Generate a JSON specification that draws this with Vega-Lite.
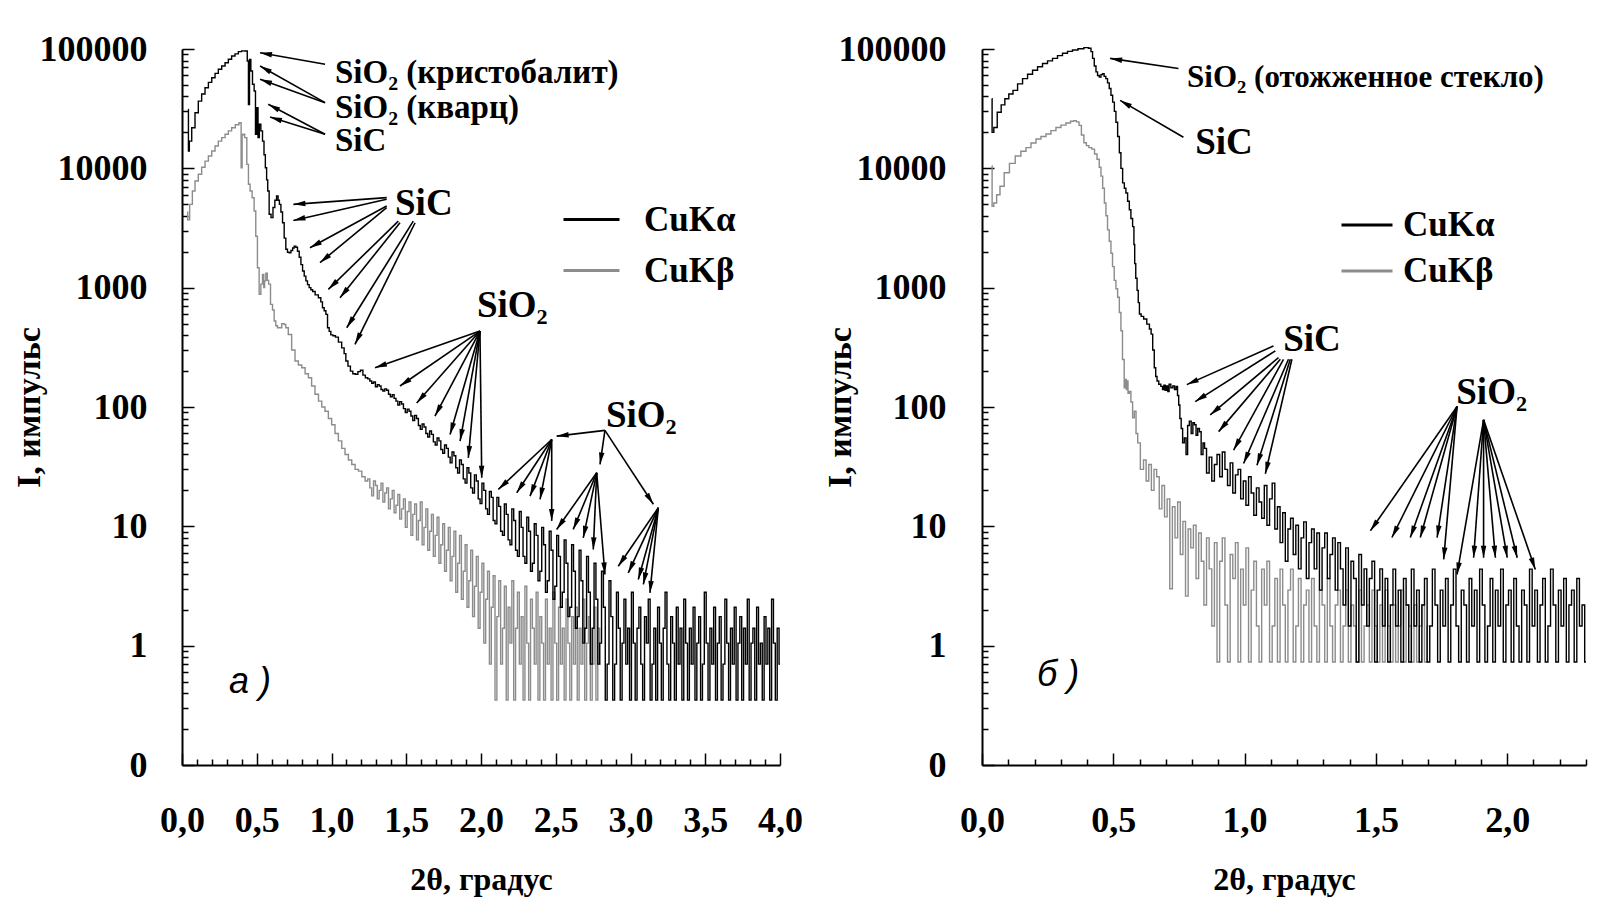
{
"$schema": "https://vega.github.io/schema/vega-lite/v6.json",
"background": "white",
"padding": {"left": 12, "top": 31, "right": 10, "bottom": 5},
"spacing": 202,
"bounds": "flush",
"config": {
  "view": {"stroke": null},
  "font": "Liberation Serif",
  "axis": {"labelFont": "Liberation Serif", "labelFontWeight": "bold", "labelFontSize": 36, "labelColor": "#000", "titleFont": "Liberation Serif", "titleFontWeight": "bold", "titleFontSize": 32, "titleColor": "#000", "domainColor": "#000", "domainWidth": 2, "tickColor": "#000", "tickWidth": 1.5, "grid": false, "labelOverlap": false, "labelFlush": false}
},
"datasets": {
"aA": [
{"x":0.042,"y":31200},{"x":0.044,"y":13960},{"x":0.054,"y":16900},{"x":0.076,"y":21900},{"x":0.098,"y":29200},{"x":0.120,"y":36600},{"x":0.143,"y":42000},{"x":0.165,"y":47400},{"x":0.188,"y":52500},{"x":0.210,"y":57500},{"x":0.232,"y":62500},{"x":0.254,"y":67600},{"x":0.277,"y":72000},{"x":0.299,"y":76800},{"x":0.321,"y":82000},{"x":0.343,"y":87300},{"x":0.366,"y":91000},{"x":0.388,"y":95000},{"x":0.410,"y":96500},{"x":0.432,"y":96100},{"x":0.441,"y":79300},{"x":0.448,"y":34300},{"x":0.455,"y":81900},{"x":0.466,"y":65500},{"x":0.477,"y":50600},{"x":0.488,"y":44500},{"x":0.495,"y":19300},{"x":0.504,"y":32200},{"x":0.513,"y":18100},{"x":0.522,"y":23400},{"x":0.533,"y":20600},{"x":0.544,"y":16900},{"x":0.553,"y":13000},{"x":0.562,"y":10100},{"x":0.570,"y":8000},{"x":0.577,"y":6460},{"x":0.589,"y":4120},{"x":0.602,"y":3860},{"x":0.615,"y":4690},{"x":0.627,"y":5400},{"x":0.638,"y":5870},{"x":0.647,"y":5400},{"x":0.656,"y":4990},{"x":0.667,"y":4300},{"x":0.678,"y":3500},{"x":0.689,"y":2600},{"x":0.700,"y":2100},{"x":0.711,"y":1980},{"x":0.722,"y":1960},{"x":0.735,"y":2050},{"x":0.745,"y":2150},{"x":0.756,"y":2230},{"x":0.767,"y":2180},{"x":0.778,"y":2020},{"x":0.790,"y":1800},{"x":0.801,"y":1560},{"x":0.812,"y":1380},{"x":0.823,"y":1250},{"x":0.834,"y":1140},{"x":0.845,"y":1060},{"x":0.856,"y":1000},{"x":0.868,"y":960},{"x":0.880,"y":930},{"x":0.901,"y":870},{"x":0.923,"y":824},{"x":0.934,"y":760},{"x":0.945,"y":679},{"x":0.957,"y":640},{"x":0.968,"y":597},{"x":0.979,"y":461},{"x":0.990,"y":430},{"x":1.001,"y":402},{"x":1.018,"y":395},{"x":1.035,"y":385},{"x":1.057,"y":350},{"x":1.079,"y":313},{"x":1.090,"y":280},{"x":1.102,"y":243},{"x":1.118,"y":220},{"x":1.135,"y":200},{"x":1.150,"y":190},{"x":1.168,"y":188},{"x":1.185,"y":198},{"x":1.202,"y":203},{"x":1.218,"y":185},{"x":1.235,"y":176},
{"x":1.2500,"y":172},{"x":1.2625,"y":165},{"x":1.2750,"y":158},{"x":1.2875,"y":162},{"x":1.3000,"y":148},{"x":1.3125,"y":154},{"x":1.3250,"y":150},{"x":1.3375,"y":140},{"x":1.3500,"y":136},{"x":1.3625,"y":142},{"x":1.3750,"y":138},{"x":1.3875,"y":128},{"x":1.4000,"y":122},{"x":1.4125,"y":127},{"x":1.4250,"y":118},{"x":1.4375,"y":112},{"x":1.4500,"y":104},{"x":1.4625,"y":111},{"x":1.4750,"y":106},{"x":1.4875,"y":97},{"x":1.5000,"y":90},{"x":1.5125,"y":96},{"x":1.5250,"y":92},{"x":1.5375,"y":84},{"x":1.5500,"y":77},{"x":1.5625,"y":85},{"x":1.5750,"y":80},{"x":1.5875,"y":70},{"x":1.6000,"y":65},{"x":1.6125,"y":72},{"x":1.6250,"y":68},{"x":1.6375,"y":60},{"x":1.6500,"y":56},{"x":1.6625,"y":63},{"x":1.6750,"y":59},{"x":1.6875,"y":51},{"x":1.7000,"y":48},{"x":1.7125,"y":55},{"x":1.7250,"y":52},{"x":1.7375,"y":44},{"x":1.7500,"y":41},{"x":1.7625,"y":48},{"x":1.7750,"y":45},{"x":1.7875,"y":38},{"x":1.8000,"y":34},{"x":1.8125,"y":42},{"x":1.8250,"y":39},{"x":1.8375,"y":31},{"x":1.8500,"y":28},{"x":1.8625,"y":36},{"x":1.8750,"y":33},{"x":1.8875,"y":25},{"x":1.9000,"y":23},{"x":1.9125,"y":31},{"x":1.9250,"y":28},{"x":1.9375,"y":21},{"x":1.9500,"y":19},{"x":1.9625,"y":27},{"x":1.9750,"y":24},{"x":1.9875,"y":17},{"x":2.0000,"y":15.5},{"x":2.0125,"y":23},{"x":2.0250,"y":20},{"x":2.0375,"y":14},{"x":2.0500,"y":12.6},{"x":2.0625,"y":19.6},{"x":2.0750,"y":17.5},{"x":2.0875,"y":11.2},{"x":2.1000,"y":10.5},{"x":2.1125,"y":17.5},{"x":2.1250,"y":14.7},{"x":2.1375,"y":9.1},{"x":2.1500,"y":8.4},{"x":2.1625,"y":15.4},{"x":2.1750,"y":12.6},{"x":2.1875,"y":7.7},{"x":2.2000,"y":7.0},{"x":2.2125,"y":14},{"x":2.2250,"y":11.2},{"x":2.2375,"y":6.3},{"x":2.2500,"y":5.6},{"x":2.2625,"y":13.3},{"x":2.2750,"y":9.8},{"x":2.2875,"y":5.6},{"x":2.3000,"y":4.9},{"x":2.3125,"y":11.9},{"x":2.3250,"y":9.1},{"x":2.3375,"y":4.2},{"x":2.3500,"y":4.9},{"x":2.3625,"y":10.5},{"x":2.3750,"y":8.4},{"x":2.3875,"y":3.5},{"x":2.4000,"y":4.2},{"x":2.4125,"y":9.8},{"x":2.4250,"y":7.0},{"x":2.4375,"y":2.8},{"x":2.4500,"y":3.5},{"x":2.4625,"y":9.1},{"x":2.4750,"y":6.3},{"x":2.4875,"y":2.45},{"x":2.5000,"y":3.15},{"x":2.5125,"y":8.4},{"x":2.5250,"y":5.6},{"x":2.5375,"y":2.1},{"x":2.5500,"y":2.8},{"x":2.5625,"y":7.7},{"x":2.5750,"y":4.9},{"x":2.5875,"y":1.75},{"x":2.6000,"y":2.1},{"x":2.6125,"y":7.0},{"x":2.6250,"y":4.2},{"x":2.6375,"y":1.4},{"x":2.6500,"y":1.75},{"x":2.6625,"y":6.3},{"x":2.6750,"y":3.5},{"x":2.6875,"y":1.05},{"x":2.7000,"y":1.4},{"x":2.7125,"y":5.6},{"x":2.7250,"y":2.8},{"x":2.7375,"y":0.7},{"x":2.7500,"y":1.4},{"x":2.7625,"y":4.9},{"x":2.7750,"y":2.45},{"x":2.7875,"y":0.7},{"x":2.8000,"y":1.05},{"x":2.8125,"y":4.2},{"x":2.8250,"y":2.1},{"x":2.8375,"y":0.35},{"x":2.8500,"y":0.7},{"x":2.8625,"y":3.5},{"x":2.8750,"y":1.75},{"x":2.8875,"y":0.35},{"x":2.9000,"y":0.7},{"x":2.9125,"y":2.8},{"x":2.9250,"y":1.4},{"x":2.9375,"y":0.35},{"x":2.9500,"y":1.05},{"x":2.9625,"y":2.45},{"x":2.9750,"y":0.7},{"x":2.9875,"y":1.4},{"x":3.0000,"y":0.35},{"x":3.0125,"y":2.8},{"x":3.0250,"y":1.05},{"x":3.0375,"y":0.35},{"x":3.0500,"y":1.4},{"x":3.0625,"y":2.1},{"x":3.0750,"y":0.7},{"x":3.0875,"y":0.35},{"x":3.1000,"y":1.75},{"x":3.1125,"y":1.05},{"x":3.1250,"y":2.45},{"x":3.1375,"y":0.35},{"x":3.1500,"y":0.7},{"x":3.1625,"y":1.4},{"x":3.1750,"y":0.35},{"x":3.1875,"y":2.1},{"x":3.2000,"y":1.05},{"x":3.2125,"y":0.35},{"x":3.2250,"y":1.4},{"x":3.2375,"y":2.8},{"x":3.2500,"y":0.7},{"x":3.2625,"y":0.35},{"x":3.2750,"y":1.75},{"x":3.2875,"y":1.05},{"x":3.3000,"y":0.35},{"x":3.3125,"y":2.1},{"x":3.3250,"y":0.7},{"x":3.3375,"y":1.4},{"x":3.3500,"y":0.35},{"x":3.3625,"y":2.45},{"x":3.3750,"y":1.05},{"x":3.3875,"y":0.35},{"x":3.4000,"y":1.4},{"x":3.4125,"y":0.7},{"x":3.4250,"y":2.1},{"x":3.4375,"y":0.35},{"x":3.4500,"y":1.05},{"x":3.4625,"y":1.75},{"x":3.4750,"y":0.35},{"x":3.4875,"y":0.7},{"x":3.5000,"y":2.8},{"x":3.5125,"y":1.05},{"x":3.5250,"y":0.35},{"x":3.5375,"y":1.4},{"x":3.5500,"y":0.7},{"x":3.5625,"y":2.1},{"x":3.5750,"y":0.35},{"x":3.5875,"y":1.05},{"x":3.6000,"y":1.75},{"x":3.6125,"y":0.35},{"x":3.6250,"y":0.7},{"x":3.6375,"y":2.45},{"x":3.6500,"y":1.05},{"x":3.6625,"y":0.35},{"x":3.6750,"y":1.4},{"x":3.6875,"y":0.7},{"x":3.7000,"y":2.1},{"x":3.7125,"y":0.35},{"x":3.7250,"y":1.05},{"x":3.7375,"y":1.75},{"x":3.7500,"y":0.35},{"x":3.7625,"y":1.4},{"x":3.7750,"y":0.7},{"x":3.7875,"y":2.45},{"x":3.8000,"y":0.35},{"x":3.8125,"y":1.05},{"x":3.8250,"y":1.4},{"x":3.8375,"y":0.35},{"x":3.8500,"y":2.1},{"x":3.8625,"y":0.7},{"x":3.8750,"y":1.05},{"x":3.8875,"y":0.35},{"x":3.9000,"y":1.75},{"x":3.9125,"y":0.7},{"x":3.9250,"y":1.4},{"x":3.9375,"y":0.35},{"x":3.9500,"y":2.45},{"x":3.9625,"y":1.05},{"x":3.9750,"y":0.35},{"x":3.9875,"y":1.4},{"x":4.0000,"y":0.7}
],
"aB": [
{"x":0.036,"y":4300},{"x":0.040,"y":3700},{"x":0.0625,"y":4990},{"x":0.076,"y":6450},{"x":0.098,"y":7830},{"x":0.120,"y":8910},{"x":0.143,"y":10200},{"x":0.165,"y":11500},{"x":0.188,"y":12700},{"x":0.210,"y":13960},{"x":0.232,"y":15400},{"x":0.254,"y":16900},{"x":0.277,"y":18100},{"x":0.299,"y":19300},{"x":0.321,"y":20600},{"x":0.343,"y":21900},{"x":0.370,"y":23200},{"x":0.392,"y":24100},{"x":0.399,"y":10100},{"x":0.405,"y":19000},{"x":0.410,"y":19300},{"x":0.428,"y":18100},{"x":0.439,"y":10800},{"x":0.450,"y":7350},{"x":0.461,"y":6450},{"x":0.477,"y":5670},{"x":0.488,"y":4390},{"x":0.499,"y":2700},{"x":0.510,"y":1470},{"x":0.522,"y":880},{"x":0.533,"y":1070},{"x":0.544,"y":1290},{"x":0.550,"y":1000},{"x":0.555,"y":1140},{"x":0.566,"y":1320},{"x":0.575,"y":1150},{"x":0.584,"y":1070},{"x":0.600,"y":724},{"x":0.611,"y":650},{"x":0.622,"y":525},{"x":0.633,"y":480},{"x":0.644,"y":461},{"x":0.656,"y":461},{"x":0.678,"y":500},{"x":0.689,"y":492},{"x":0.700,"y":461},{"x":0.722,"y":405},{"x":0.745,"y":300},{"x":0.767,"y":243},{"x":0.790,"y":225},{"x":0.812,"y":213},{"x":0.835,"y":190},{"x":0.856,"y":176},{"x":0.878,"y":150},{"x":0.901,"y":128},{"x":0.925,"y":112},{"x":0.945,"y":100},{"x":0.968,"y":92},{"x":0.990,"y":80},{"x":1.012,"y":71},{"x":1.035,"y":60},{"x":1.057,"y":52},{"x":1.080,"y":45},{"x":1.101,"y":40},{"x":1.125,"y":36},{"x":1.146,"y":33},{"x":1.170,"y":30},{"x":1.191,"y":29},{"x":1.215,"y":26},{"x":1.235,"y":24},
{"x":1.2500,"y":25},{"x":1.2625,"y":21},{"x":1.2750,"y":18},{"x":1.2875,"y":24},{"x":1.3000,"y":22},{"x":1.3125,"y":17},{"x":1.3250,"y":20},{"x":1.3375,"y":23},{"x":1.3500,"y":16},{"x":1.3625,"y":19},{"x":1.3750,"y":21},{"x":1.3875,"y":14},{"x":1.4000,"y":17},{"x":1.4125,"y":20},{"x":1.4250,"y":13},{"x":1.4375,"y":15},{"x":1.4500,"y":18.5},{"x":1.4625,"y":11.5},{"x":1.4750,"y":14},{"x":1.4875,"y":17},{"x":1.5000,"y":9.8},{"x":1.5125,"y":13.3},{"x":1.5250,"y":16},{"x":1.5375,"y":8.4},{"x":1.5500,"y":12.6},{"x":1.5625,"y":15.4},{"x":1.5750,"y":7.7},{"x":1.5875,"y":11.2},{"x":1.6000,"y":16},{"x":1.6125,"y":7.0},{"x":1.6250,"y":9.8},{"x":1.6375,"y":14},{"x":1.6500,"y":6.3},{"x":1.6625,"y":9.1},{"x":1.6750,"y":12.6},{"x":1.6875,"y":5.6},{"x":1.7000,"y":8.4},{"x":1.7125,"y":11.9},{"x":1.7250,"y":4.9},{"x":1.7375,"y":7.0},{"x":1.7500,"y":10.5},{"x":1.7625,"y":4.2},{"x":1.7750,"y":6.3},{"x":1.7875,"y":9.8},{"x":1.8000,"y":3.5},{"x":1.8125,"y":5.6},{"x":1.8250,"y":9.1},{"x":1.8375,"y":2.8},{"x":1.8500,"y":4.9},{"x":1.8625,"y":8.4},{"x":1.8750,"y":2.45},{"x":1.8875,"y":4.2},{"x":1.9000,"y":7.0},{"x":1.9125,"y":2.1},{"x":1.9250,"y":3.5},{"x":1.9375,"y":6.3},{"x":1.9500,"y":1.75},{"x":1.9625,"y":3.15},{"x":1.9750,"y":5.6},{"x":1.9875,"y":1.4},{"x":2.0000,"y":2.8},{"x":2.0125,"y":4.9},{"x":2.0250,"y":1.05},{"x":2.0375,"y":2.45},{"x":2.0500,"y":4.2},{"x":2.0625,"y":0.7},{"x":2.0750,"y":2.1},{"x":2.0875,"y":3.85},{"x":2.1000,"y":0.35},{"x":2.1125,"y":1.75},{"x":2.1250,"y":3.5},{"x":2.1375,"y":0.7},{"x":2.1500,"y":1.4},{"x":2.1625,"y":3.15},{"x":2.1750,"y":0.35},{"x":2.1875,"y":2.1},{"x":2.2000,"y":1.05},{"x":2.2125,"y":3.5},{"x":2.2250,"y":0.35},{"x":2.2375,"y":1.4},{"x":2.2500,"y":2.8},{"x":2.2625,"y":0.7},{"x":2.2750,"y":1.75},{"x":2.2875,"y":0.35},{"x":2.3000,"y":3.15},{"x":2.3125,"y":1.05},{"x":2.3250,"y":0.35},{"x":2.3375,"y":2.45},{"x":2.3500,"y":1.4},{"x":2.3625,"y":0.7},{"x":2.3750,"y":2.8},{"x":2.3875,"y":0.35},{"x":2.4000,"y":1.75},{"x":2.4125,"y":1.05},{"x":2.4250,"y":0.35},{"x":2.4375,"y":2.45},{"x":2.4500,"y":0.7},{"x":2.4625,"y":1.4},{"x":2.4750,"y":0.35},{"x":2.4875,"y":2.8},{"x":2.5000,"y":1.05},{"x":2.5125,"y":0.35},{"x":2.5250,"y":2.1},{"x":2.5375,"y":0.7},{"x":2.5500,"y":1.4},{"x":2.5625,"y":0.35},{"x":2.5750,"y":2.45},{"x":2.5875,"y":1.05},{"x":2.6000,"y":0.35},{"x":2.6125,"y":1.75},{"x":2.6250,"y":0.7},{"x":2.6375,"y":2.1},{"x":2.6500,"y":0.35},{"x":2.6625,"y":1.4},{"x":2.6750,"y":0.7},{"x":2.6875,"y":2.45},{"x":2.7000,"y":0.35},{"x":2.7125,"y":1.05},{"x":2.7250,"y":1.75},{"x":2.7375,"y":0.35},{"x":2.7500,"y":0.7},{"x":2.7625,"y":2.1},{"x":2.7750,"y":0.35},{"x":2.7875,"y":1.4},{"x":2.8000,"y":0.7}
],
"bA": [
{"x":0.037,"y":38300},{"x":0.040,"y":20000},{"x":0.050,"y":22000},{"x":0.066,"y":29500},{"x":0.080,"y":34000},{"x":0.094,"y":38300},{"x":0.110,"y":42000},{"x":0.126,"y":45000},{"x":0.145,"y":51000},{"x":0.164,"y":56500},{"x":0.183,"y":61500},{"x":0.202,"y":66400},{"x":0.221,"y":71000},{"x":0.240,"y":75600},{"x":0.259,"y":79500},{"x":0.278,"y":83400},{"x":0.297,"y":88000},{"x":0.316,"y":92000},{"x":0.335,"y":95500},{"x":0.354,"y":98100},{"x":0.377,"y":100500},{"x":0.399,"y":102600},{"x":0.412,"y":101600},{"x":0.418,"y":95000},{"x":0.424,"y":83400},{"x":0.431,"y":72000},{"x":0.437,"y":64300},{"x":0.443,"y":60000},{"x":0.450,"y":58300},{"x":0.456,"y":61000},{"x":0.462,"y":62200},{"x":0.468,"y":59000},{"x":0.475,"y":56500},{"x":0.481,"y":52000},{"x":0.488,"y":46600},{"x":0.494,"y":41000},{"x":0.501,"y":35900},{"x":0.507,"y":30000},{"x":0.513,"y":24300},{"x":0.520,"y":18500},{"x":0.526,"y":13500},{"x":0.532,"y":10000},{"x":0.539,"y":7550},{"x":0.545,"y":6800},{"x":0.551,"y":6220},{"x":0.558,"y":5300},{"x":0.564,"y":4500},{"x":0.570,"y":3800},{"x":0.577,"y":3250},{"x":0.580,"y":2300},{"x":0.583,"y":1590},{"x":0.588,"y":1200},{"x":0.593,"y":949},{"x":0.597,"y":750},{"x":0.602,"y":602},{"x":0.610,"y":575},{"x":0.621,"y":546},{"x":0.634,"y":495},{"x":0.641,"y":450},{"x":0.647,"y":408},{"x":0.653,"y":300},{"x":0.659,"y":213},{"x":0.664,"y":180},{"x":0.669,"y":165},{"x":0.677,"y":155},{"x":0.685,"y":149},{"x":0.690,"y":140},{"x":0.695,"y":152},{"x":0.700,"y":138},{"x":0.705,"y":150},{"x":0.710,"y":135},{"x":0.715,"y":155},{"x":0.723,"y":145},{"x":0.730,"y":150},{"x":0.736,"y":140},{"x":0.742,"y":149},{"x":0.747,"y":125},{"x":0.751,"y":104},{"x":0.756,"y":80},{"x":0.761,"y":66},{"x":0.767,"y":50},{"x":0.774,"y":55},{"x":0.780,"y":40},{"x":0.786,"y":70},{"x":0.793,"y":76},{"x":0.800,"y":60},{"x":0.806,"y":74},{"x":0.812,"y":71},{"x":0.818,"y":58},{"x":0.825,"y":66},{"x":0.831,"y":62},{"x":0.838,"y":40},{"x":0.845,"y":50},
{"x":0.850,"y":45},{"x":0.860,"y":28},{"x":0.870,"y":38},{"x":0.880,"y":24},{"x":0.890,"y":33},{"x":0.900,"y":40},{"x":0.910,"y":26},{"x":0.920,"y":42},{"x":0.930,"y":30},{"x":0.940,"y":22},{"x":0.950,"y":34},{"x":0.960,"y":19},{"x":0.970,"y":27},{"x":0.980,"y":30},{"x":0.990,"y":17},{"x":1.000,"y":24},{"x":1.010,"y":15},{"x":1.020,"y":26},{"x":1.030,"y":19},{"x":1.040,"y":12.4},{"x":1.050,"y":21},{"x":1.060,"y":16},{"x":1.070,"y":11.7},{"x":1.080,"y":22},{"x":1.090,"y":10.2},{"x":1.100,"y":17},{"x":1.110,"y":23},{"x":1.120,"y":9.5},{"x":1.130,"y":14.6},{"x":1.140,"y":7.3},{"x":1.150,"y":13},{"x":1.160,"y":5.1},{"x":1.170,"y":9.5},{"x":1.180,"y":11.7},{"x":1.190,"y":5.8},{"x":1.200,"y":10.2},{"x":1.210,"y":4.4},{"x":1.220,"y":8.0},{"x":1.230,"y":10.9},{"x":1.240,"y":3.65},{"x":1.250,"y":7.3},{"x":1.260,"y":9.5},{"x":1.270,"y":4.4},{"x":1.280,"y":8.8},{"x":1.290,"y":2.92},{"x":1.300,"y":6.6},{"x":1.310,"y":8.8},{"x":1.320,"y":3.65},{"x":1.330,"y":5.8},{"x":1.340,"y":8.0},{"x":1.350,"y":2.92},{"x":1.360,"y":7.3},{"x":1.370,"y":4.4},{"x":1.380,"y":2.19},{"x":1.390,"y":6.6},{"x":1.400,"y":1.46},{"x":1.410,"y":5.1},{"x":1.420,"y":3.65},{"x":1.430,"y":0.73},{"x":1.440,"y":5.8},{"x":1.450,"y":2.19},{"x":1.460,"y":4.4},{"x":1.470,"y":1.46},{"x":1.480,"y":3.65},{"x":1.490,"y":5.1},{"x":1.500,"y":0.73},{"x":1.510,"y":2.92},{"x":1.520,"y":4.4},{"x":1.530,"y":1.46},{"x":1.540,"y":3.65},{"x":1.550,"y":0.73},{"x":1.560,"y":2.19},{"x":1.570,"y":4.38},{"x":1.580,"y":1.46},{"x":1.590,"y":2.92},{"x":1.600,"y":0.73},{"x":1.610,"y":3.65},{"x":1.620,"y":2.19},{"x":1.630,"y":0.73},{"x":1.640,"y":4.38},{"x":1.650,"y":1.46},{"x":1.660,"y":2.92},{"x":1.670,"y":0.73},{"x":1.680,"y":2.19},{"x":1.690,"y":3.65},{"x":1.700,"y":0.73},{"x":1.710,"y":1.46},{"x":1.720,"y":4.38},{"x":1.730,"y":2.19},{"x":1.740,"y":0.73},{"x":1.750,"y":2.92},{"x":1.760,"y":1.46},{"x":1.770,"y":3.65},{"x":1.780,"y":0.73},{"x":1.790,"y":2.19},{"x":1.800,"y":4.38},{"x":1.810,"y":1.46},{"x":1.820,"y":0.73},{"x":1.830,"y":2.92},{"x":1.840,"y":2.19},{"x":1.850,"y":0.73},{"x":1.860,"y":3.65},{"x":1.870,"y":1.46},{"x":1.880,"y":2.92},{"x":1.890,"y":0.73},{"x":1.900,"y":4.38},{"x":1.910,"y":2.19},{"x":1.920,"y":0.73},{"x":1.930,"y":1.46},{"x":1.940,"y":3.65},{"x":1.950,"y":0.73},{"x":1.960,"y":2.92},{"x":1.970,"y":1.46},{"x":1.980,"y":4.38},{"x":1.990,"y":0.73},{"x":2.000,"y":2.19},{"x":2.010,"y":2.92},{"x":2.020,"y":0.73},{"x":2.030,"y":3.65},{"x":2.040,"y":1.46},{"x":2.050,"y":0.73},{"x":2.060,"y":2.92},{"x":2.070,"y":2.19},{"x":2.080,"y":0.73},{"x":2.090,"y":4.38},{"x":2.100,"y":1.46},{"x":2.110,"y":2.92},{"x":2.120,"y":0.73},{"x":2.130,"y":2.19},{"x":2.140,"y":3.65},{"x":2.150,"y":0.73},{"x":2.160,"y":1.46},{"x":2.170,"y":4.38},{"x":2.180,"y":2.19},{"x":2.190,"y":0.73},{"x":2.200,"y":2.92},{"x":2.210,"y":1.46},{"x":2.220,"y":3.65},{"x":2.230,"y":0.73},{"x":2.240,"y":2.19},{"x":2.250,"y":2.92},{"x":2.260,"y":0.73},{"x":2.270,"y":3.65},{"x":2.280,"y":1.46},{"x":2.290,"y":2.19},{"x":2.300,"y":0.73}
],
"bB": [
{"x":0.037,"y":10450},{"x":0.040,"y":4800},{"x":0.0496,"y":5120},{"x":0.062,"y":6000},{"x":0.075,"y":7080},{"x":0.094,"y":9180},{"x":0.115,"y":11000},{"x":0.138,"y":12700},{"x":0.158,"y":13900},{"x":0.177,"y":14900},{"x":0.196,"y":16300},{"x":0.215,"y":17600},{"x":0.234,"y":18500},{"x":0.253,"y":19400},{"x":0.272,"y":20700},{"x":0.291,"y":22000},{"x":0.310,"y":23000},{"x":0.329,"y":24000},{"x":0.345,"y":24800},{"x":0.354,"y":25100},{"x":0.365,"y":24500},{"x":0.374,"y":22900},{"x":0.383,"y":19000},{"x":0.393,"y":16400},{"x":0.402,"y":15500},{"x":0.412,"y":14900},{"x":0.424,"y":14500},{"x":0.433,"y":13200},{"x":0.443,"y":11900},{"x":0.450,"y":10200},{"x":0.456,"y":8610},{"x":0.463,"y":6800},{"x":0.469,"y":5120},{"x":0.475,"y":4000},{"x":0.481,"y":3050},{"x":0.488,"y":2450},{"x":0.494,"y":1940},{"x":0.500,"y":1500},{"x":0.507,"y":1150},{"x":0.513,"y":980},{"x":0.520,"y":832},{"x":0.526,"y":620},{"x":0.532,"y":436},{"x":0.538,"y":250},{"x":0.545,"y":145},{"x":0.548,"y":170},{"x":0.551,"y":140},{"x":0.554,"y":165},{"x":0.558,"y":130},{"x":0.564,"y":135},{"x":0.570,"y":110},{"x":0.577,"y":81},{"x":0.583,"y":92},{"x":0.590,"y":60},{"x":0.596,"y":50},
{"x":0.610,"y":30},{"x":0.620,"y":36},{"x":0.630,"y":24},{"x":0.640,"y":33},{"x":0.650,"y":20},{"x":0.660,"y":30},{"x":0.670,"y":26},{"x":0.680,"y":14},{"x":0.690,"y":22},{"x":0.700,"y":12},{"x":0.710,"y":17},{"x":0.720,"y":3.0},{"x":0.730,"y":14.6},{"x":0.740,"y":8.0},{"x":0.750,"y":16},{"x":0.760,"y":5.8},{"x":0.770,"y":11},{"x":0.780,"y":2.6},{"x":0.790,"y":9.5},{"x":0.800,"y":6.6},{"x":0.810,"y":10.2},{"x":0.820,"y":3.65},{"x":0.830,"y":8.8},{"x":0.840,"y":5.1},{"x":0.850,"y":2.19},{"x":0.860,"y":8.0},{"x":0.870,"y":4.4},{"x":0.880,"y":1.46},{"x":0.890,"y":7.3},{"x":0.900,"y":0.73},{"x":0.910,"y":5.1},{"x":0.920,"y":8.0},{"x":0.930,"y":2.19},{"x":0.940,"y":0.73},{"x":0.950,"y":5.8},{"x":0.960,"y":3.65},{"x":0.970,"y":7.3},{"x":0.980,"y":0.73},{"x":0.990,"y":4.38},{"x":1.000,"y":2.19},{"x":1.010,"y":6.6},{"x":1.020,"y":0.73},{"x":1.030,"y":2.92},{"x":1.040,"y":5.1},{"x":1.050,"y":1.46},{"x":1.060,"y":0.73},{"x":1.070,"y":4.38},{"x":1.080,"y":2.19},{"x":1.090,"y":5.1},{"x":1.100,"y":0.73},{"x":1.110,"y":1.46},{"x":1.120,"y":3.65},{"x":1.130,"y":0.73},{"x":1.140,"y":4.38},{"x":1.150,"y":2.19},{"x":1.160,"y":0.73},{"x":1.170,"y":2.92},{"x":1.180,"y":4.38},{"x":1.190,"y":0.73},{"x":1.200,"y":1.46},{"x":1.210,"y":3.65},{"x":1.220,"y":0.73},{"x":1.230,"y":2.19},{"x":1.240,"y":2.92},{"x":1.250,"y":0.73},{"x":1.260,"y":3.65},{"x":1.270,"y":1.46},{"x":1.280,"y":0.73},{"x":1.290,"y":2.92},{"x":1.300,"y":2.19},{"x":1.310,"y":0.73},{"x":1.320,"y":3.65},{"x":1.330,"y":1.46},{"x":1.340,"y":0.73},{"x":1.350,"y":2.19},{"x":1.360,"y":2.92},{"x":1.370,"y":0.73},{"x":1.380,"y":1.46},{"x":1.390,"y":2.92},{"x":1.400,"y":0.73},{"x":1.410,"y":2.19},{"x":1.420,"y":1.46},{"x":1.430,"y":0.73},{"x":1.440,"y":2.92},{"x":1.450,"y":0.73},{"x":1.460,"y":1.46},{"x":1.470,"y":2.19},{"x":1.480,"y":0.73},{"x":1.490,"y":2.92},{"x":1.500,"y":1.46},{"x":1.510,"y":0.73},{"x":1.520,"y":2.19},{"x":1.530,"y":0.73},{"x":1.540,"y":2.92},{"x":1.550,"y":1.46},{"x":1.560,"y":0.73},{"x":1.570,"y":2.19},{"x":1.580,"y":0.73},{"x":1.590,"y":1.46},{"x":1.600,"y":2.92},{"x":1.610,"y":0.73},{"x":1.620,"y":2.19},{"x":1.630,"y":1.46},{"x":1.640,"y":0.73},{"x":1.650,"y":2.19},{"x":1.660,"y":0.73},{"x":1.670,"y":1.46},{"x":1.680,"y":2.19},{"x":1.690,"y":0.73},{"x":1.700,"y":1.46}
],
"arrA": [
{"x":0.522,"y":93100,"x0":0.957,"y0":74500},{"x":0.522,"y":72000,"x0":0.957,"y0":35500},{"x":0.522,"y":55700,"x0":0.957,"y0":35500},{"x":0.577,"y":34400,"x0":0.957,"y0":19300},{"x":0.589,"y":26900,"x0":0.957,"y0":19300},
{"x":0.745,"y":4990,"x0":1.369,"y0":5680},{"x":0.745,"y":3660,"x0":1.369,"y0":5500},{"x":0.856,"y":2160,"x0":1.369,"y0":4830},{"x":0.923,"y":1620,"x0":1.369,"y0":4680},{"x":0.979,"y":968,"x0":1.447,"y0":3610},{"x":1.057,"y":822,"x0":1.458,"y0":3500},{"x":1.102,"y":461,"x0":1.547,"y0":3610},{"x":1.157,"y":335,"x0":1.559,"y0":3500},
{"x":1.291,"y":213,"x0":1.993,"y0":433},{"x":1.458,"y":150,"x0":1.993,"y0":433},{"x":1.570,"y":108,"x0":1.993,"y0":433},{"x":1.692,"y":84,"x0":1.993,"y0":433},{"x":1.793,"y":58.9,"x0":1.993,"y0":433},{"x":1.860,"y":51.8,"x0":1.993,"y0":433},{"x":1.915,"y":37.5,"x0":1.993,"y0":433},{"x":2.005,"y":25.5,"x0":1.993,"y0":433},
{"x":2.506,"y":57.0,"x0":2.829,"y0":63.7},{"x":2.796,"y":33.0,"x0":2.829,"y0":63.7},{"x":3.153,"y":15.3,"x0":2.829,"y0":63.7},
{"x":2.116,"y":20.4,"x0":2.473,"y0":53.4},{"x":2.239,"y":19.1,"x0":2.473,"y0":53.4},{"x":2.328,"y":17.9,"x0":2.473,"y0":53.4},{"x":2.395,"y":16.8,"x0":2.473,"y0":53.4},{"x":2.473,"y":11.1,"x0":2.473,"y0":53.4},
{"x":2.506,"y":9.42,"x0":2.774,"y0":28.1},{"x":2.617,"y":9.42,"x0":2.774,"y0":28.1},{"x":2.684,"y":8.01,"x0":2.774,"y0":28.1},{"x":2.751,"y":6.40,"x0":2.774,"y0":28.1},{"x":2.829,"y":3.95,"x0":2.774,"y0":28.1},
{"x":2.918,"y":4.63,"x0":3.186,"y0":14.3},{"x":2.985,"y":4.07,"x0":3.186,"y0":14.3},{"x":3.052,"y":3.59,"x0":3.186,"y0":14.3},{"x":3.086,"y":3.26,"x0":3.186,"y0":14.3},{"x":3.130,"y":2.77,"x0":3.186,"y0":14.3}
],
"arrB": [
{"x":0.488,"y":83400,"x0":0.748,"y0":68700},{"x":0.526,"y":37100,"x0":0.767,"y0":18200},
{"x":0.780,"y":154,"x0":1.110,"y0":325},{"x":0.812,"y":111,"x0":1.117,"y0":295},{"x":0.869,"y":85.9,"x0":1.129,"y0":259},{"x":0.901,"y":62.2,"x0":1.136,"y0":251},{"x":0.958,"y":43.5,"x0":1.148,"y0":251},{"x":0.996,"y":33.6,"x0":1.167,"y0":251},{"x":1.047,"y":32.5,"x0":1.174,"y0":251},{"x":1.079,"y":27.6,"x0":1.180,"y0":251},
{"x":1.479,"y":9.17,"x0":1.809,"y0":101},{"x":1.561,"y":8.06,"x0":1.809,"y0":101},{"x":1.631,"y":8.06,"x0":1.809,"y0":101},{"x":1.669,"y":8.06,"x0":1.809,"y0":101},{"x":1.733,"y":8.06,"x0":1.809,"y0":101},{"x":1.758,"y":5.28,"x0":1.809,"y0":101},
{"x":1.809,"y":3.95,"x0":1.910,"y0":78},{"x":1.872,"y":5.46,"x0":1.910,"y0":78},{"x":1.910,"y":5.46,"x0":1.910,"y0":78},{"x":1.955,"y":5.46,"x0":1.910,"y0":78},{"x":2.000,"y":5.46,"x0":1.910,"y0":78},{"x":2.038,"y":5.46,"x0":1.910,"y0":78},{"x":2.107,"y":4.35,"x0":1.910,"y0":78}
],
"txtTop": [
{"x":1.023,"y":63000,"t":"SiO₂ (кристобалит)"},{"x":1.023,"y":32000,"t":"SiO₂ (кварц)"},{"x":1.023,"y":16900,"t":"SiC"}
],
"txtA": [
{"x":1.425,"y":5020,"t":"SiC"},{"x":1.973,"y":702,"t":"SiO₂"},{"x":2.836,"y":84,"t":"SiO₂"}
],
"txtB": [
{"x":0.812,"y":16400,"t":"SiC"},{"x":1.147,"y":361,"t":"SiC"},{"x":1.806,"y":131,"t":"SiO₂"}
]
},
"resolve": {"scale": {"color": "independent"}, "legend": {"color": "independent"}},
"hconcat": [
{
 "width": 598, "height": 716,
 "encoding": {
  "x": {"field": "x", "type": "quantitative", "scale": {"domain": [0, 4], "nice": false, "zero": false},
   "axis": {"values": [0,0.1,0.2,0.3,0.4,0.5,0.6,0.7,0.8,0.9,1,1.1,1.2,1.3,1.4,1.5,1.6,1.7,1.8,1.9,2,2.1,2.2,2.3,2.4,2.5,2.6,2.7,2.8,2.9,3,3.1,3.2,3.3,3.4,3.5,3.6,3.7,3.8,3.9,4],
    "labelExpr": "abs(datum.value*2-round(datum.value*2))<0.001 ? replace(format(datum.value,'.1f'),'.',',') : ''",
    "tickSize": {"condition": {"test": "abs(datum.value*2-round(datum.value*2))<0.001", "value": -12}, "value": -6},
    "labelPadding": 50, "title": "2θ, градус", "titlePadding": 20}},
  "y": {"field": "y", "type": "quantitative", "scale": {"type": "log", "domain": [0.1, 100000], "nice": false},
   "axis": {"values": [0.1,0.2,0.3,0.4,0.5,0.6,0.7,0.8,0.9,1,2,3,4,5,6,7,8,9,10,20,30,40,50,60,70,80,90,100,200,300,400,500,600,700,800,900,1000,2000,3000,4000,5000,6000,7000,8000,9000,10000,20000,30000,40000,50000,60000,70000,80000,90000,100000],
    "labelExpr": "abs(log(datum.value)/LN10-round(log(datum.value)/LN10))<0.001 ? (datum.value<0.5 ? '0' : format(datum.value,'d')) : ''",
    "tickSize": {"condition": {"test": "abs(log(datum.value)/LN10-round(log(datum.value)/LN10))<0.001", "value": -12}, "value": -6},
    "labelPadding": 47, "title": "I, импульс", "titleFontSize": 34, "titleAngle": -90, "titleX": -153, "titleY": 358, "titleAlign": "center", "titleBaseline": "middle"}}
 },
 "layer": [
  {"data": {"name": "aB"}, "mark": {"type": "line", "interpolate": "step", "strokeWidth": 1.4},
   "encoding": {"color": {"datum": "CuKβ", "type": "nominal", "scale": {"domain": ["CuKα", "CuKβ"], "range": ["#000000", "#8c8c8c"]},
    "legend": {"orient": "none", "legendX": 380, "legendY": 141, "title": null, "symbolType": "stroke", "symbolSize": 3136, "symbolStrokeWidth": 3, "labelFont": "Liberation Serif", "labelFontWeight": "bold", "labelFontSize": 35, "labelColor": "#000", "labelOffset": 23, "rowPadding": 3, "padding": 0}}}},
  {"data": {"name": "aA"}, "mark": {"type": "line", "interpolate": "step", "strokeWidth": 1.4},
   "encoding": {"color": {"datum": "CuKα", "type": "nominal", "scale": {"domain": ["CuKα", "CuKβ"], "range": ["#000000", "#8c8c8c"]},
    "legend": {"orient": "none", "legendX": 380, "legendY": 141, "title": null, "symbolType": "stroke", "symbolSize": 3136, "symbolStrokeWidth": 3, "labelFont": "Liberation Serif", "labelFontWeight": "bold", "labelFontSize": 35, "labelColor": "#000", "labelOffset": 23, "rowPadding": 3, "padding": 0}}}},
  {"data": {"name": "arrA"}, "mark": {"type": "rule", "color": "#000", "strokeWidth": 1.6},
   "encoding": {"x2": {"field": "x0"}, "y2": {"field": "y0"}}},
  {"data": {"name": "arrA"},
   "transform": [{"calculate": "atan2((datum.x-datum.x0)*149.5, (log(datum.y)-log(datum.y0))/LN10*119.33)*180/PI", "as": "ang"}],
   "mark": {"type": "point", "shape": "M0,0L0.55,2.4L-0.55,2.4Z", "filled": true, "size": 100, "color": "#000", "opacity": 1, "strokeWidth": 0},
   "encoding": {"angle": {"field": "ang", "type": "quantitative", "scale": null}}},
  {"data": {"name": "txtTop"}, "mark": {"type": "text", "align": "left", "baseline": "middle", "font": "Liberation Serif", "fontWeight": "bold", "fontSize": 33, "color": "#000"},
   "encoding": {"text": {"field": "t", "type": "nominal"}}},
  {"data": {"name": "txtA"}, "mark": {"type": "text", "align": "left", "baseline": "middle", "font": "Liberation Serif", "fontWeight": "bold", "fontSize": 37, "color": "#000"},
   "encoding": {"text": {"field": "t", "type": "nominal"}}},
  {"data": {"values": [{"x": 0.455, "y": 0.494, "t": "а )"}]}, "mark": {"type": "text", "font": "Liberation Sans", "fontStyle": "italic", "fontSize": 36, "color": "#000", "align": "center", "baseline": "middle"},
   "encoding": {"text": {"field": "t", "type": "nominal"}}}
 ]
},
{
 "width": 604, "height": 716,
 "encoding": {
  "x": {"field": "x", "type": "quantitative", "scale": {"domain": [0, 2.3], "nice": false, "zero": false},
   "axis": {"values": [0,0.1,0.2,0.3,0.4,0.5,0.6,0.7,0.8,0.9,1,1.1,1.2,1.3,1.4,1.5,1.6,1.7,1.8,1.9,2,2.1,2.2,2.3],
    "labelExpr": "abs(datum.value*2-round(datum.value*2))<0.001 ? replace(format(datum.value,'.1f'),'.',',') : ''",
    "tickSize": {"condition": {"test": "abs(datum.value*2-round(datum.value*2))<0.001", "value": -12}, "value": -6},
    "labelPadding": 50, "title": "2θ, градус", "titlePadding": 20}},
  "y": {"field": "y", "type": "quantitative", "scale": {"type": "log", "domain": [0.1, 100000], "nice": false},
   "axis": {"values": [0.1,0.2,0.3,0.4,0.5,0.6,0.7,0.8,0.9,1,2,3,4,5,6,7,8,9,10,20,30,40,50,60,70,80,90,100,200,300,400,500,600,700,800,900,1000,2000,3000,4000,5000,6000,7000,8000,9000,10000,20000,30000,40000,50000,60000,70000,80000,90000,100000],
    "labelExpr": "abs(log(datum.value)/LN10-round(log(datum.value)/LN10))<0.001 ? (datum.value<0.5 ? '0' : format(datum.value,'d')) : ''",
    "tickSize": {"condition": {"test": "abs(log(datum.value)/LN10-round(log(datum.value)/LN10))<0.001", "value": -12}, "value": -6},
    "labelPadding": 48, "title": "I, импульс", "titleFontSize": 34, "titleAngle": -90, "titleX": -142, "titleY": 358, "titleAlign": "center", "titleBaseline": "middle"}}
 },
 "layer": [
  {"data": {"name": "bB"}, "mark": {"type": "line", "interpolate": "step", "strokeWidth": 1.4},
   "encoding": {"color": {"datum": "CuKβ", "type": "nominal", "scale": {"domain": ["CuKα", "CuKβ"], "range": ["#000000", "#8c8c8c"]},
    "legend": {"orient": "none", "legendX": 358, "legendY": 149, "title": null, "symbolType": "stroke", "symbolSize": 2601, "symbolStrokeWidth": 3, "labelFont": "Liberation Serif", "labelFontWeight": "bold", "labelFontSize": 35, "labelColor": "#000", "labelOffset": 9, "rowPadding": 1, "padding": 0}}}},
  {"data": {"name": "bA"}, "mark": {"type": "line", "interpolate": "step", "strokeWidth": 1.4},
   "encoding": {"color": {"datum": "CuKα", "type": "nominal", "scale": {"domain": ["CuKα", "CuKβ"], "range": ["#000000", "#8c8c8c"]},
    "legend": {"orient": "none", "legendX": 358, "legendY": 149, "title": null, "symbolType": "stroke", "symbolSize": 2601, "symbolStrokeWidth": 3, "labelFont": "Liberation Serif", "labelFontWeight": "bold", "labelFontSize": 35, "labelColor": "#000", "labelOffset": 9, "rowPadding": 1, "padding": 0}}}},
  {"data": {"name": "arrB"}, "mark": {"type": "rule", "color": "#000", "strokeWidth": 1.6},
   "encoding": {"x2": {"field": "x0"}, "y2": {"field": "y0"}}},
  {"data": {"name": "arrB"},
   "transform": [{"calculate": "atan2((datum.x-datum.x0)*262.6, (log(datum.y)-log(datum.y0))/LN10*119.33)*180/PI", "as": "ang"}],
   "mark": {"type": "point", "shape": "M0,0L0.55,2.4L-0.55,2.4Z", "filled": true, "size": 100, "color": "#000", "opacity": 1, "strokeWidth": 0},
   "encoding": {"angle": {"field": "ang", "type": "quantitative", "scale": null}}},
  {"data": {"name": "txtB"}, "mark": {"type": "text", "align": "left", "baseline": "middle", "font": "Liberation Serif", "fontWeight": "bold", "fontSize": 37, "color": "#000"},
   "encoding": {"text": {"field": "t", "type": "nominal"}}},
  {"data": {"values": [{"x": 0.781, "y": 57400, "t": "SiO₂ (отожженное стекло)"}]}, "mark": {"type": "text", "align": "left", "baseline": "middle", "font": "Liberation Serif", "fontWeight": "bold", "fontSize": 31, "color": "#000"},
   "encoding": {"text": {"field": "t", "type": "nominal"}}},
  {"data": {"values": [{"x": 0.290, "y": 0.564, "t": "б )"}]}, "mark": {"type": "text", "font": "Liberation Sans", "fontStyle": "italic", "fontSize": 36, "color": "#000", "align": "center", "baseline": "middle"},
   "encoding": {"text": {"field": "t", "type": "nominal"}}}
 ]
}
]
}
